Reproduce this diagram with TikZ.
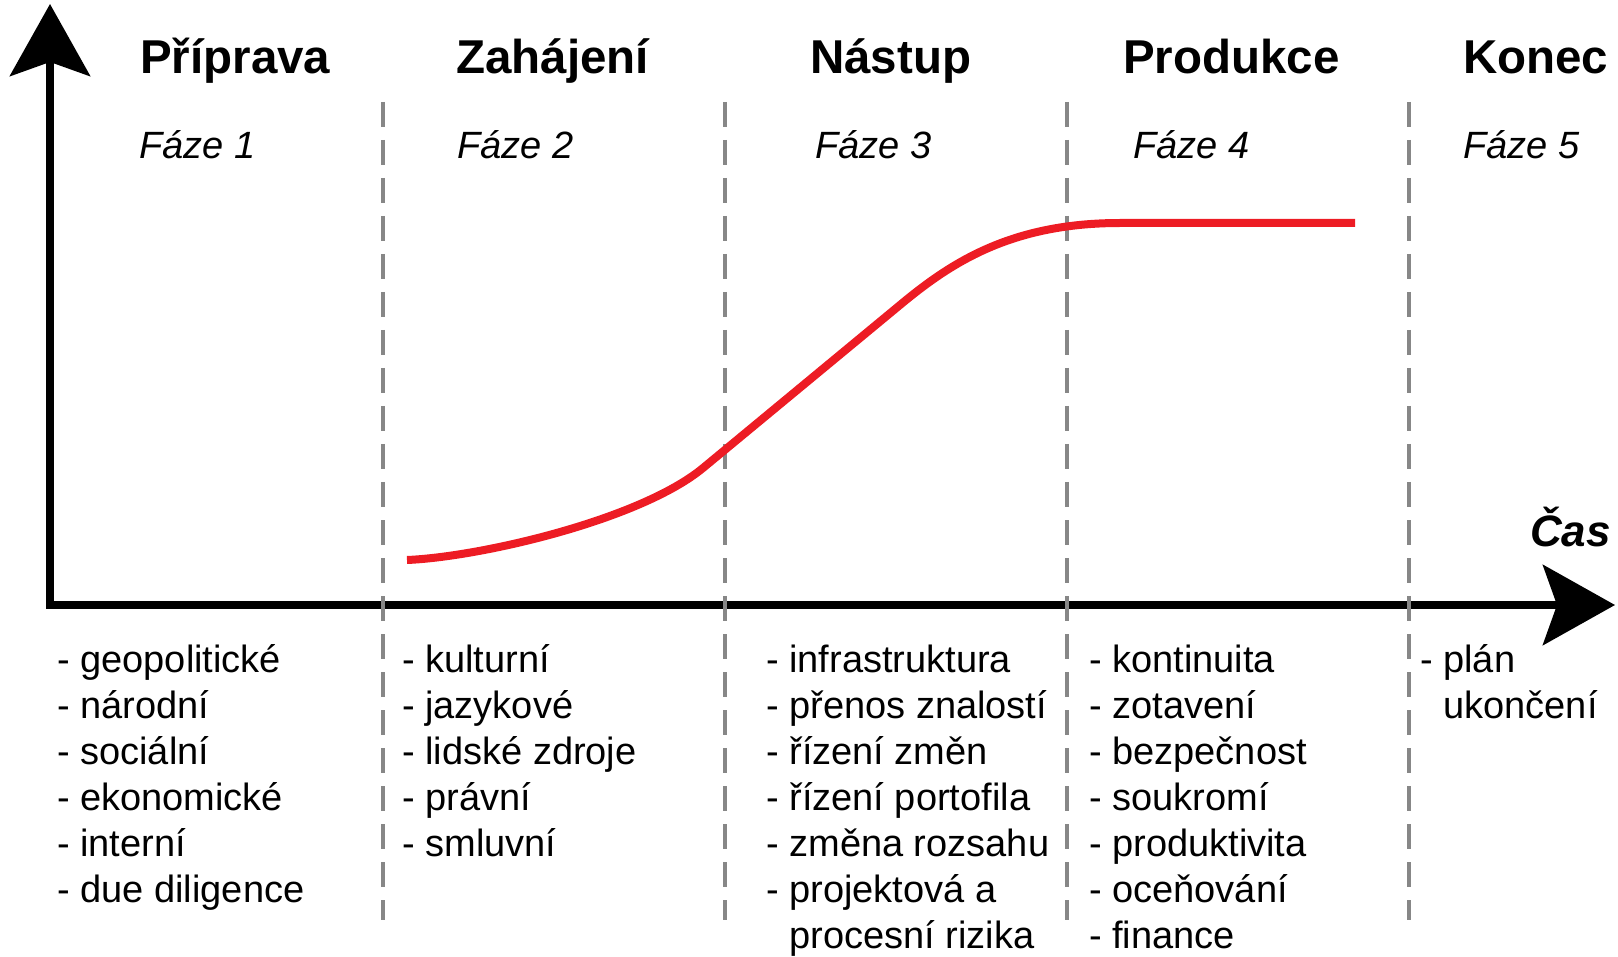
\documentclass[tikz,border=0pt]{standalone}
\usepackage{fontspec}
\setmainfont{Liberation Sans}
\usepackage{tikz}
\usepackage{xcolor}
\usetikzlibrary{arrows.meta, positioning}

\definecolor{curvered}{HTML}{ED1C24}
\definecolor{sepgray}{HTML}{878787}

\tikzset{
  axis/.style={line width=8pt, <->},
  phaseline/.style={draw=sepgray, line width=3.5pt, dash pattern=on 25pt off 13pt},
  growth/.style={draw=curvered, line width=8pt},
  phasetitle/.style={font=\fontsize{47.5}{57}\selectfont\bfseries, anchor=base west, inner sep=0pt},
  phasenum/.style={font=\fontsize{38}{46}\selectfont\itshape, anchor=base west, inner sep=0pt},
  listitem/.style={font=\fontsize{38}{46}\selectfont, anchor=base west, inner sep=0pt}
}

\begin{document}
\begin{tikzpicture}[x=1pt, y=-1pt, >={Stealth[length=72pt, width=80pt, inset=14pt]}]
\useasboundingbox (0,0) rectangle (1618,957);
% Axes
\coordinate (ytip) at (50,4);
\coordinate (xtip) at (1615,605);
\draw[axis] (ytip) |- (xtip);
\node[font=\fontsize{44}{52}\selectfont\bfseries\itshape, anchor=base east, inner sep=0pt] (time) at (1611,546) {Čas};
% Phase borders
\foreach \x in {383,725,1067,1409} {
    \draw[phaseline] (\x,102) -- (\x,920);
}
% Growth curve
\draw[growth] (407,560) .. controls (480,557) and (640,520) .. (703,468)
    -- (900,305) .. controls (950,263.5) and (1010,223) .. (1120,223) -- (1355,223);
% Titles and phase numbers
\foreach \x/\t [count=\i] in {140/Příprava, 456/Zahájení, 810/Nástup, 1123/Produkce, 1463/Konec} {
    \node[phasetitle] (t\i) at (\x,74) {\t};
}
\foreach \x/\n in {139/1, 457/2, 815/3, 1133/4, 1463/5} {
    \node[phasenum] (f\n) at (\x,159) {Fáze \n};
}
% Lists below the time axis
\foreach \txt [count=\i] in {geopolitické, národní, sociální, ekonomické, interní, due diligence} {
    \node[listitem] (a\i) at (57,{672+46*(\i-1)}) {- \txt};
}
\foreach \txt [count=\i] in {kulturní, jazykové, lidské zdroje, právní, smluvní} {
    \node[listitem] (b\i) at (402,{672+46*(\i-1)}) {- \txt};
}
\foreach \txt [count=\i] in {infrastruktura, přenos znalostí, řízení změn, řízení portofila, změna rozsahu, projektová a} {
    \node[listitem] (c\i) at (766,{672+46*(\i-1)}) {- \txt};
}
\node[listitem] (c7) at (766,948) {\phantom{-}~procesní rizika};
\foreach \txt [count=\i] in {kontinuita, zotavení, bezpečnost, soukromí, produktivita, oceňování, finance} {
    \node[listitem] (d\i) at (1089,{672+46*(\i-1)}) {- \txt};
}
\node[listitem] (e1) at (1420,672) {- plán};
\node[listitem] (e2) at (1420,718) {\phantom{-}~ukončení};
\end{tikzpicture}
\end{document}
